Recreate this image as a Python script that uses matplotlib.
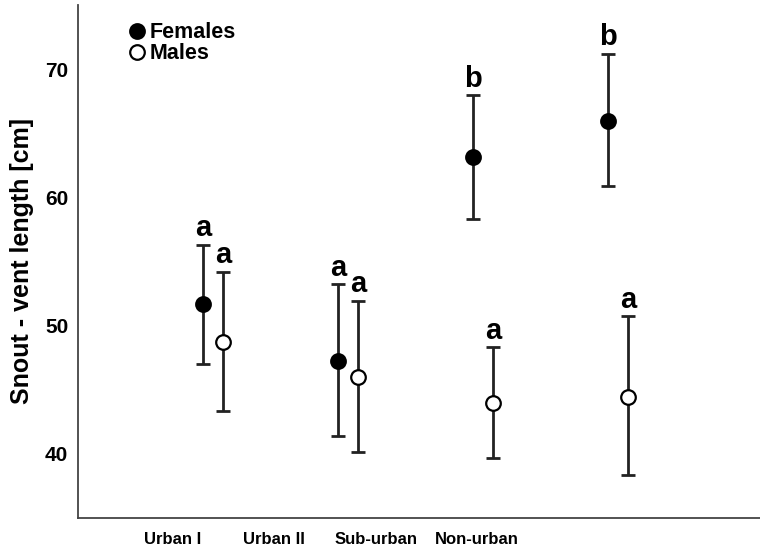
import matplotlib
matplotlib.use("Agg")
import matplotlib.pyplot as plt
from matplotlib.lines import Line2D
import numpy as np

sites = ['Urban I', 'Urban II', 'Sub-urban', 'Non-urban']
female_mean = [51.7, 47.25, 63.15, 65.95]
female_low = [47.0, 41.4, 58.35, 60.85]
female_high = [56.3, 53.25, 67.95, 71.2]
male_mean = [48.75, 46.0, 44.0, 44.45]
male_low = [43.35, 40.15, 39.7, 38.35]
male_high = [54.2, 51.95, 48.3, 50.75]
female_letters = ['a', 'a', 'b', 'b']
male_letters = ['a', 'a', 'a', 'a']
yticks = [40, 50, 60, 70]

plt.rcParams['font.family'] = ['Liberation Sans', 'DejaVu Sans']

fig = plt.figure(figsize=(7.6, 5.55), dpi=100)
ax = fig.add_axes([0.1026, 0.0667, 0.8974, 0.9243])

x = np.arange(len(sites))
dx = 0.075
ink = '#222222'

def draw(xs, mean, low, high, face):
    mean = np.array(mean)
    err = [mean - np.array(low), np.array(high) - mean]
    ax.errorbar(xs, mean, yerr=err, fmt='none', ecolor=ink, elinewidth=2,
                capsize=5, capthick=2, zorder=2)
    ax.plot(xs, mean, 'o', ms=10.5, mfc=face, mec='black', mew=1.6,
            ls='none', zorder=3)

draw(x - dx, female_mean, female_low, female_high, 'black')
draw(x + dx, male_mean, male_low, male_high, 'white')

for xi, hi, lab in zip(x - dx, female_high, female_letters):
    ax.annotate(lab, (xi, hi), xytext=(0, 6), textcoords='offset points',
                ha='center', va='baseline', fontsize=21, fontweight='bold')
for xi, hi, lab in zip(x + dx, male_high, male_letters):
    ax.annotate(lab, (xi, hi), xytext=(0, 6), textcoords='offset points',
                ha='center', va='baseline', fontsize=21, fontweight='bold')

ax.set_xlim(-1.0, 4.05)
ax.set_ylim(35, 75)
ax.set_yticks(yticks)
ax.set_yticklabels([str(t) for t in yticks], fontsize=15, fontweight='bold')
ax.set_xticks(-0.3 + 0.752 * x)
ax.set_xticklabels(sites, fontsize=12, fontweight='bold')
ax.tick_params(axis='x', length=0, pad=10)
ax.tick_params(axis='y', length=0, pad=7)
ax.set_ylabel('Snout - vent length [cm]', fontsize=18, fontweight='bold', labelpad=8)

for s in ['top', 'right']:
    ax.spines[s].set_visible(False)
for s in ['left', 'bottom']:
    ax.spines[s].set_color('#444444')
    ax.spines[s].set_linewidth(1.3)

handles = [Line2D([], [], marker='o', ls='none', ms=10.5, mfc='black', mec='black', mew=1.6),
           Line2D([], [], marker='o', ls='none', ms=10.5, mfc='white', mec='black', mew=1.6)]
fig.legend(handles, ['Females', 'Males'], loc='upper left', bbox_to_anchor=(0.14, 0.995),
           frameon=False, handletextpad=0.1, handlelength=1.0, labelspacing=0.0,
           prop={'size': 15.5, 'weight': 'bold'})

fig.savefig('out.png', dpi=100)
